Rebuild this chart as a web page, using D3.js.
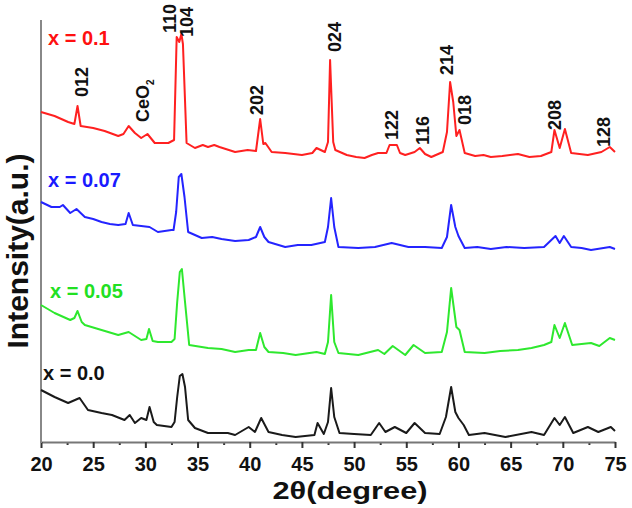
<!DOCTYPE html>
<html>
<head>
<meta charset="utf-8">
<script src="https://cdn.jsdelivr.net/npm/d3@7"></script>
<style>
  body { margin: 0; background: #fff; }
  text { font-family: Arial, "Liberation Sans", sans-serif; font-weight: bold; }
</style>
</head>
<body>
<script>
// 2theta (degree) and stacked intensity (a.u.)
const red = [
  [20.0, 330], [21.3, 326], [22.6, 320], [23.2, 318], [23.5, 336], [23.8, 316], [25.0, 314],
  [26.1, 311], [27.4, 306], [27.9, 308], [28.4, 316], [29.0, 309], [29.6, 304], [30.2, 308],
  [30.9, 299], [32.2, 299], [32.75, 302], [33.0, 405], [33.25, 400], [33.45, 408], [33.6, 398],
  [33.95, 299], [34.75, 294], [35.5, 297], [36.0, 295], [36.6, 297], [37.1, 295], [38.6, 290],
  [39.8, 292], [40.6, 291], [41.0, 323], [41.3, 298], [41.5, 299], [42.1, 290], [43.4, 289],
  [45.0, 287], [46.0, 289], [46.4, 294], [47.2, 290], [47.5, 300], [47.7, 382], [48.0, 300],
  [48.2, 292], [49.3, 287], [50.2, 285], [51.0, 284], [51.7, 287], [52.3, 289], [53.1, 289],
  [53.4, 297], [54.1, 297], [54.4, 289], [54.9, 287], [55.8, 290], [56.3, 294], [56.8, 288],
  [57.4, 285], [58.5, 290], [58.9, 310], [59.2, 360], [59.5, 340], [59.8, 306], [60.1, 312],
  [60.6, 289], [61.6, 286], [62.4, 287], [63.1, 285], [64.2, 286], [65.7, 288], [66.8, 285],
  [67.9, 286], [68.9, 290], [69.2, 312], [69.7, 294], [70.2, 313], [70.8, 289], [71.6, 288],
  [72.4, 287], [73.7, 290], [74.5, 295], [75.0, 290]
];
const blue = [
  [20.0, 240], [21.0, 235], [21.8, 235], [22.1, 237], [22.8, 229], [23.4, 233], [24.2, 225],
  [25.0, 223], [25.8, 220], [26.6, 218], [27.4, 217], [28.1, 218], [28.4, 229], [28.8, 217],
  [29.6, 216], [30.4, 215], [31.2, 210], [32.5, 212], [32.7, 212], [32.95, 230], [33.2, 265],
  [33.45, 268], [33.75, 245], [34.1, 210], [35.4, 204], [36.4, 205], [37.3, 203], [38.6, 201],
  [39.9, 202], [40.6, 205], [41.0, 215], [41.4, 205], [41.8, 200], [43.4, 195], [44.6, 197],
  [45.9, 197], [47.2, 200], [47.5, 215], [47.8, 244], [48.1, 215], [48.5, 195], [50.4, 194],
  [52.0, 195], [53.6, 199], [55.2, 195], [56.8, 195], [58.4, 194], [58.9, 205], [59.3, 237],
  [59.7, 215], [60.0, 206], [60.6, 194], [61.8, 195], [63.1, 193], [64.6, 195], [66.3, 194],
  [68.2, 195], [69.3, 206], [69.7, 199], [70.1, 206], [70.8, 195], [71.8, 194], [72.7, 192],
  [74.5, 195], [75.0, 193]
];
const green = [
  [20.0, 137], [21.3, 129], [22.8, 122], [23.2, 124], [23.5, 131], [23.9, 120], [24.2, 117],
  [25.8, 112], [27.4, 107], [28.4, 110], [29.6, 102], [30.1, 103], [30.35, 113], [30.7, 101],
  [31.2, 100], [32.5, 100], [32.8, 103], [33.05, 140], [33.3, 170], [33.5, 173], [33.8, 140],
  [34.2, 97], [36.0, 94], [37.3, 93], [38.6, 90], [39.9, 92], [40.6, 92], [41.0, 109],
  [41.4, 95], [41.8, 90], [43.2, 89], [44.4, 87], [46.4, 90], [47.2, 88], [47.5, 100],
  [47.8, 147], [48.1, 100], [48.5, 89], [50.4, 87], [52.3, 92], [52.9, 88], [53.7, 96],
  [54.9, 87], [55.7, 97], [56.8, 89], [58.4, 90], [58.9, 110], [59.3, 154], [59.8, 115],
  [60.1, 112], [60.6, 90], [62.5, 89], [64.0, 91], [65.7, 92], [67.0, 94], [68.2, 97],
  [68.9, 100], [69.2, 117], [69.7, 104], [70.2, 119], [70.9, 97], [72.7, 99], [73.5, 96],
  [74.5, 104], [75.0, 102]
];
const black = [
  [20.0, 52], [21.3, 45], [22.6, 39], [23.7, 44], [24.5, 32], [25.8, 29], [26.8, 27],
  [28.0, 22], [28.5, 27], [29.0, 19], [29.6, 24], [30.1, 22], [30.4, 35], [30.8, 20],
  [31.1, 17], [32.5, 15], [32.8, 20], [33.05, 45], [33.3, 66], [33.55, 68], [33.8, 55],
  [34.1, 22], [34.75, 14], [36.0, 9], [37.9, 9], [38.6, 7], [39.9, 15], [40.5, 10],
  [41.1, 24], [41.8, 10], [43.1, 7], [44.4, 5], [46.2, 7], [46.5, 19], [47.1, 8],
  [47.5, 20], [47.8, 54], [48.1, 25], [48.6, 9], [50.0, 8], [51.6, 7], [52.4, 19],
  [53.0, 10], [53.9, 15], [55.0, 9], [55.8, 19], [56.8, 9], [58.2, 8], [58.8, 25],
  [59.3, 55], [59.7, 30], [60.0, 24], [60.5, 17], [61.0, 7], [62.5, 9], [64.5, 5],
  [67.0, 10], [68.2, 7], [69.2, 24], [69.7, 17], [70.2, 25], [71.0, 9], [72.4, 15],
  [73.4, 10], [74.6, 15], [75.0, 11]
];

const seriesNames = ["x = 0.1", "x = 0.07", "x = 0.05", "x = 0.0"];
const seriesData = [red, blue, green, black];
const seriesColors = ["#ff2020", "#2424ff", "#2ee82e", "#1a1a1a"];
const labelColors = ["#ff1010", "#1a1aff", "#22e022", "#111"];

const peakNames = ["012", "CeO", "110", "104", "202", "024", "122", "116", "214", "018", "208", "128"];
const peakAngles = [23.93, 29.82, 32.36, 33.98, 40.69, 48.16, 53.62, 56.59, 58.89, 60.61, 69.23, 73.93];
const peakLevels = [345, 320, 409, 405, 327, 390, 302, 297, 367, 317, 312, 295];

const xTicks = [20, 25, 30, 35, 40, 45, 50, 55, 60, 65, 70, 75];

const width = 632, height = 508;
const svg = d3.select("body").append("svg")
    .attr("width", width)
    .attr("height", height);

const x = d3.scaleLinear().domain([20, 75]).range([41, 615]);
const y = d3.scaleLinear().domain([0, 420]).range([442, 22]);

// minor ticks
svg.append("g")
    .attr("transform", "translate(0,442)")
    .call(d3.axisBottom(x).tickValues(d3.range(22.5, 75, 5)).tickSize(3).tickFormat(""))
    .call(g => g.select(".domain").remove())
    .call(g => g.selectAll("line").attr("stroke", "#333").attr("stroke-width", 2));

const xAxis = svg.append("g")
    .attr("transform", "translate(0,442)")
    .call(d3.axisBottom(x).tickValues(xTicks).tickSize(6).tickPadding(9).tickSizeOuter(0));
xAxis.select(".domain").attr("stroke", "#777").attr("stroke-width", 2);
xAxis.selectAll("line").attr("stroke", "#333").attr("stroke-width", 2);
xAxis.selectAll("text")
    .attr("fill", "#111")
    .style("font-size", "20px")
    .style("font-weight", "bold");

svg.append("line")
    .attr("x1", x(20)).attr("x2", x(20))
    .attr("y1", 20).attr("y2", 443)
    .attr("stroke", "#888")
    .attr("stroke-width", 2);

const line = d3.line()
    .x(d => x(d[0]))
    .y(d => y(d[1]));

svg.selectAll(".pattern")
    .data(seriesData)
    .enter()
    .append("path")
    .attr("class", "pattern")
    .attr("d", line)
    .attr("fill", "none")
    .attr("stroke", (d, i) => seriesColors[i])
    .attr("stroke-width", 2)
    .attr("stroke-linejoin", "round");

// series labels
const labelPos = [[48, 45], [48, 187], [50, 298], [43, 380]];
svg.selectAll(".slabel")
    .data(seriesNames)
    .enter()
    .append("text")
    .attr("class", "slabel")
    .attr("x", (d, i) => labelPos[i][0])
    .attr("y", (d, i) => labelPos[i][1])
    .attr("fill", (d, i) => labelColors[i])
    .style("font-size", "20px")
    .text(d => d);

// hkl labels
const peaks = svg.selectAll(".peak")
    .data(peakNames)
    .enter()
    .append("text")
    .attr("class", "peak")
    .attr("transform", (d, i) => `translate(${x(peakAngles[i]) + 6},${y(peakLevels[i])}) rotate(-90)`)
    .attr("fill", "#111")
    .style("font-size", "18px")
    .text(d => d);
peaks.filter(d => d === "CeO")
    .append("tspan")
    .attr("dy", 5)
    .style("font-size", "10px")
    .text("2");

svg.append("text")
    .attr("x", 350)
    .attr("y", 499)
    .attr("text-anchor", "middle")
    .attr("textLength", 155)
    .attr("lengthAdjust", "spacingAndGlyphs")
    .attr("fill", "#111")
    .style("font-size", "24px")
    .text("2θ(degree)");

svg.append("text")
    .attr("transform", "translate(28,251) rotate(-90)")
    .attr("text-anchor", "middle")
    .attr("fill", "#111")
    .style("font-size", "30px")
    .text("Intensity(a.u.)");
</script>
</body>
</html>
